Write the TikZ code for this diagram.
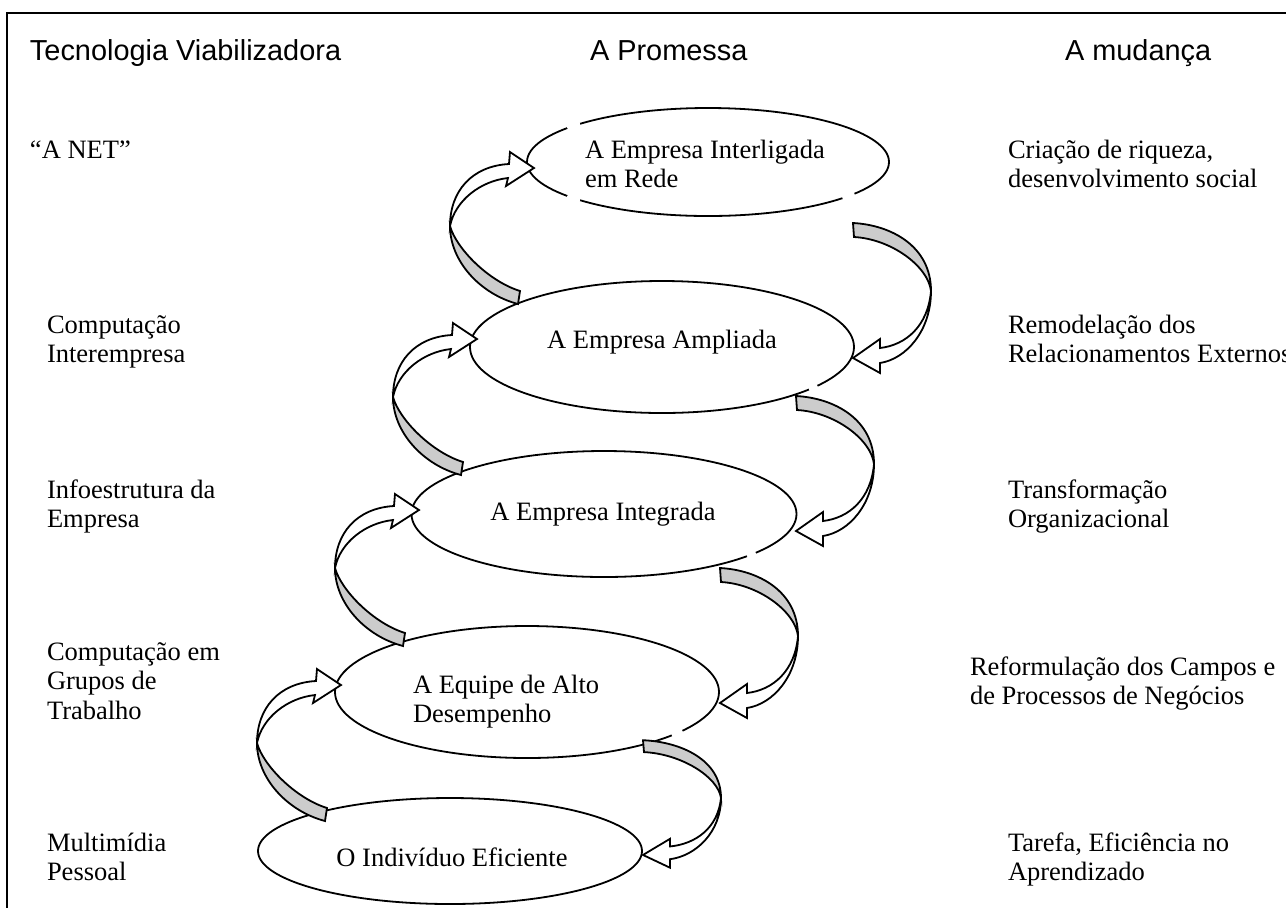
\documentclass[tikz,border=0pt]{standalone}
\usepackage{fontspec}
\setmainfont{Liberation Serif}
\newfontfamily\hdrfont{Liberation Sans}
\usetikzlibrary{shapes.geometric}
\definecolor{shadegray}{RGB}{204,204,204}
\newcommand{\tb}[1]{\begin{tabular}[t]{@{}l@{}}#1\end{tabular}}
\begin{document}
\begin{tikzpicture}[x=0.5pt,y=-0.5pt,
  every node/.style={inner sep=0pt, outer sep=0pt},
  body/.style={font=\fontsize{13.25}{14.75}\selectfont, anchor=base west},
  bodyc/.style={font=\fontsize{13.25}{14.75}\selectfont, anchor=base},
  hdr/.style={font=\hdrfont\fontsize{14.45}{17}\selectfont, anchor=base west},
  oval/.style={draw, ellipse, fill=white, line width=0.9pt},
  gapline/.style={white, line width=2.2pt},
  blk/.style={draw=black, line width=0.9pt, line join=miter},
  larrow/.pic={
    \path[blk, fill=shadegray] (0,0) .. controls (0,35) and (30,68) .. (68,78)
      -- (70,65) .. controls (38,55) and (6,22) .. (0,0) -- cycle;
    \path[blk, fill=white] (0,0) .. controls (0,-35) and (22,-60) .. (59,-62)
      -- (60,-74) -- (84,-58) -- (56,-40) -- (58,-48)
      .. controls (30,-45) and (5,-25) .. (0,0) -- cycle;
  },
  rarrow/.pic={
    \path[blk, fill=shadegray] (0,0) .. controls (0,-45) and (-40,-66) .. (-78,-68)
      -- (-77,-54) .. controls (-40,-52) and (-3,-25) .. (0,0) -- cycle;
    \path[blk, fill=white] (0,0) .. controls (0,40) and (-25,68) .. (-51,72)
      -- (-51,82) -- (-78,67) -- (-51,48) -- (-51,57)
      .. controls (-25,54) and (-3,35) .. (0,0) -- cycle;
  }
]
\useasboundingbox (0,0) rectangle (1286,907);
\fill[white] (0,0) rectangle (1286,907);

% frame
\draw[line width=0.8pt] (7,910) -- (7,13) -- (1290,13);

% headers
\node[hdr] (h1) at (30,60) {Tecnologia Viabilizadora};
\node[hdr] (h2) at (590,60) {A Promessa};
\node[hdr] (h3) at (1065,60) {A mudança};

% ellipses
\node[oval, minimum width=181pt, minimum height=54pt] (e1) at (708,162) {};
\node[oval, minimum width=192pt, minimum height=66pt] (e2) at (662,347) {};
\node[oval, minimum width=192.5pt, minimum height=63pt] (e3) at (604,514) {};
\node[oval, minimum width=192pt, minimum height=66pt] (e4) at (527,692) {};
\node[oval, minimum width=192pt, minimum height=53pt] (e5) at (450,851) {};

% small breaks in the outlines
\draw[gapline] (e1.center) ++(219:181 and 54) arc[start angle=219, end angle=225, x radius=181, y radius=54];
\draw[gapline] (e1.center) ++(135:181 and 54) arc[start angle=135, end angle=141, x radius=181, y radius=54];
\draw[gapline] (e1.center) ++(36:181 and 54) arc[start angle=36, end angle=42, x radius=181, y radius=54];
\draw[gapline] (e2.center) ++(36:192 and 66) arc[start angle=36, end angle=40, x radius=192, y radius=66];
\draw[gapline] (e3.center) ++(38:192.5 and 63) arc[start angle=38, end angle=42, x radius=192.5, y radius=63];
\draw[gapline] (e4.center) ++(36:192 and 66) arc[start angle=36, end angle=41, x radius=192, y radius=66];

% arrow anchor points
\coordinate (la1) at ([shift={(-77,64)}]e1.west);
\coordinate (la2) at ([shift={(-77,50)}]e2.west);
\coordinate (la3) at ([shift={(-76.5,54)}]e3.west);
\coordinate (la4) at ([shift={(-78,51)}]e4.west);
\coordinate (ra1) at ([shift={(77,-56)}]e2.east);
\coordinate (ra2) at ([shift={(77.5,-50)}]e3.east);
\coordinate (ra3) at ([shift={(79,-56)}]e4.east);
\coordinate (ra4) at ([shift={(79,-53)}]e5.east);

\pic at (la1) {larrow};
\pic at (la2) {larrow};
\pic at (la3) {larrow};
\pic at (la4) {larrow};
\pic at (ra1) {rarrow};
\pic at (ra2) {rarrow};
\pic at (ra3) {rarrow};
\pic[yscale=0.85] at (ra4) {rarrow};

% ellipse texts
\node[body] (e1t) at (585,158) {\tb{A Empresa Interligada\\em Rede}};
\node[bodyc] (e2t) at (662,348) {A Empresa Ampliada};
\node[bodyc] (e3t) at (603,520) {A Empresa Integrada};
\node[body] (e4t) at (413,693) {\tb{A Equipe de Alto\\Desempenho}};
\node[bodyc] (e5t) at (452,866) {O Indivíduo Eficiente};

% left column
\node[body] (l1) at (30,158) {“A NET”};
\node[body] (l2) at (47,333) {\tb{Computação\\Interempresa}};
\node[body] (l3) at (47,498) {\tb{Infoestrutura da\\Empresa}};
\node[body] (l4) at (47,660) {\tb{Computação em\\Grupos de\\Trabalho}};
\node[body] (l5) at (47,851) {\tb{Multimídia\\Pessoal}};

% right column
\node[body] (r1) at (1008,158) {\tb{Criação de riqueza,\\desenvolvimento social}};
\node[body] (r2) at (1008,333) {\tb{Remodelação dos\\Relacionamentos Externos}};
\node[body] (r3) at (1008,498) {\tb{Transformação\\Organizacional}};
\node[body] (r4) at (970,675) {\tb{Reformulação dos Campos e\\de Processos de Negócios}};
\node[body] (r5) at (1008,851) {\tb{Tarefa, Eficiência no\\Aprendizado}};
\end{tikzpicture}
\end{document}
